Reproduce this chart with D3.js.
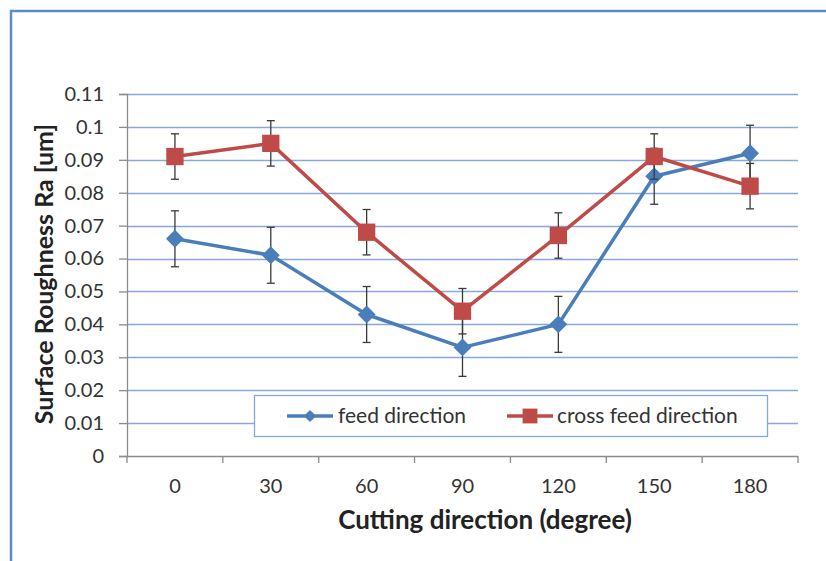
<!DOCTYPE html>
<html>
<head>
<meta charset="utf-8">
<script src="https://cdn.jsdelivr.net/npm/d3@7"></script>
<style>
  html, body { margin: 0; padding: 0; background: #fff; }
  svg { display: block; font-family: Lato, "Open Sans", sans-serif; }
</style>
</head>
<body>
<svg id="chart" width="826" height="561"></svg>
<script>
// Cutting direction categories (degrees)
const categories = ["0", "30", "60", "90", "120", "150", "180"];

// Mean surface roughness Ra (um) per direction
const feedValues  = [0.066, 0.061, 0.043, 0.033, 0.040, 0.085, 0.092];
const crossValues = [0.091, 0.095, 0.068, 0.044, 0.067, 0.091, 0.082];

// Error bar half-widths (um)
const feedErrors  = [0.0085, 0.0085, 0.0085, 0.0088, 0.0085, 0.0085, 0.0085];
const crossErrors = [0.0069, 0.0069, 0.0069, 0.0069, 0.0069, 0.0069, 0.0069];

// Y axis tick labels
const yTickValues = [0, 0.01, 0.02, 0.03, 0.04, 0.05, 0.06, 0.07, 0.08, 0.09, 0.1, 0.11];
const yTickLabels = ["0", "0.01", "0.02", "0.03", "0.04", "0.05", "0.06", "0.07", "0.08", "0.09", "0.1", "0.11"];

const seriesNames = ["feed direction", "cross feed direction"];

const svg = d3.select("#chart");

const plot = { left: 127, right: 798, top: 94, bottom: 456 };

const x = d3.scaleBand().domain(categories).range([plot.left, plot.right]).padding(0);
const y = d3.scaleLinear().domain([0, 0.11]).range([plot.bottom, plot.top]);

const blue = "#4a7ebb";
const red = "#be4b48";
const gridColor = "#86a8dc";
const axisColor = "#8c8c8c";
const textColor = "#333333";

// Outer chart frame
svg.append("rect")
  .attr("x", 11).attr("y", 11)
  .attr("width", 900).attr("height", 700)
  .attr("fill", "none")
  .attr("stroke", "#5b8bd0")
  .attr("stroke-width", 2.5);

// Horizontal gridlines
svg.append("g")
  .selectAll("line")
  .data(yTickValues.filter(v => v > 0))
  .join("line")
  .attr("x1", plot.left).attr("x2", plot.right)
  .attr("y1", d => Math.round(y(d)) + 0.5).attr("y2", d => Math.round(y(d)) + 0.5)
  .attr("stroke", gridColor)
  .attr("stroke-width", 1.3);

// Y axis
const yAxis = d3.axisLeft(y)
  .tickValues(yTickValues)
  .tickFormat((d, i) => yTickLabels[i])
  .tickSize(8)
  .tickPadding(15);

const gy = svg.append("g")
  .attr("transform", `translate(${plot.left},0)`)
  .call(yAxis);
gy.select(".domain").attr("stroke", axisColor).attr("stroke-width", 1.3);
gy.selectAll(".tick line").attr("stroke", axisColor).attr("stroke-width", 1.3);
gy.selectAll(".tick text")
  .attr("fill", textColor)
  .style("font-size", "20px")
  .style("font-family", "Lato, sans-serif");

// X axis labels at category centres
const xAxis = d3.axisBottom(x).tickSize(0).tickPadding(23);
const gx = svg.append("g")
  .attr("transform", `translate(0,${plot.bottom})`)
  .call(xAxis);
gx.select(".domain").remove();
gx.selectAll(".tick text")
  .attr("fill", textColor)
  .style("font-size", "20px")
  .style("font-family", "Lato, sans-serif");

// X axis baseline and category boundary ticks
svg.append("line")
  .attr("x1", plot.left).attr("x2", plot.right)
  .attr("y1", plot.bottom + 0.5).attr("y2", plot.bottom + 0.5)
  .attr("stroke", axisColor).attr("stroke-width", 1.3);
const boundaries = categories.map(c => x(c)).concat([x(categories[categories.length - 1]) + x.bandwidth()]);
svg.append("g")
  .selectAll("line")
  .data(boundaries)
  .join("line")
  .attr("x1", d => d).attr("x2", d => d)
  .attr("y1", plot.bottom).attr("y2", plot.bottom + 7)
  .attr("stroke", axisColor).attr("stroke-width", 1.3);

// Axis titles
svg.append("text")
  .attr("x", 485).attr("y", 529)
  .attr("text-anchor", "middle")
  .attr("fill", "#222")
  .style("font-size", "26px")
  .style("font-weight", "bold")
  .text("Cutting direction (degree)");

svg.append("text")
  .attr("transform", "translate(53,274) rotate(-90)")
  .attr("text-anchor", "middle")
  .attr("fill", "#222")
  .style("font-size", "25px")
  .style("font-weight", "bold")
  .text("Surface Roughness Ra [um]");

const cx = c => x(c) + x.bandwidth() / 2;

function drawSeries(values, errors, color, shape) {
  const pts = categories.map((c, i) => ({ c, v: values[i], e: errors[i] }));
  const g = svg.append("g");

  // error bars
  const eb = g.append("g").attr("stroke", "#3a3a3a").attr("stroke-width", 1.3);
  pts.forEach(p => {
    const xc = cx(p.c);
    eb.append("line").attr("x1", xc).attr("x2", xc)
      .attr("y1", y(p.v + p.e)).attr("y2", y(p.v - p.e));
    eb.append("line").attr("x1", xc - 4).attr("x2", xc + 4)
      .attr("y1", y(p.v + p.e)).attr("y2", y(p.v + p.e));
    eb.append("line").attr("x1", xc - 4).attr("x2", xc + 4)
      .attr("y1", y(p.v - p.e)).attr("y2", y(p.v - p.e));
  });

  const line = d3.line().x(p => cx(p.c)).y(p => y(p.v));
  g.append("path")
    .datum(pts)
    .attr("d", line)
    .attr("fill", "none")
    .attr("stroke", color)
    .attr("stroke-width", 3.5)
    .attr("stroke-linejoin", "round");

  const sym = d3.symbol().type(d3.symbolSquare)
    .size(shape === "diamond" ? 160 : 300);
  g.selectAll("path.marker")
    .data(pts)
    .join("path")
    .attr("class", "marker")
    .attr("d", sym)
    .attr("transform", p => `translate(${cx(p.c)},${y(p.v)})` + (shape === "diamond" ? " rotate(45)" : ""))
    .attr("fill", color);
}

drawSeries(feedValues, feedErrors, blue, "diamond");
drawSeries(crossValues, crossErrors, red, "square");

// Legend
const legend = svg.append("g");
legend.append("rect")
  .attr("x", 254.5).attr("y", 395.5)
  .attr("width", 513).attr("height", 41)
  .attr("fill", "#fff")
  .attr("stroke", gridColor)
  .attr("stroke-width", 1.3);

const legendItems = [
  { name: seriesNames[0], color: blue, shape: "diamond", x0: 287, tx: 338 },
  { name: seriesNames[1], color: red, shape: "square", x0: 507, tx: 557 }
];
legendItems.forEach(it => {
  const ly = 416;
  legend.append("line")
    .attr("x1", it.x0).attr("x2", it.x0 + 46)
    .attr("y1", ly).attr("y2", ly)
    .attr("stroke", it.color).attr("stroke-width", 3.5);
  legend.append("path")
    .attr("d", d3.symbol().type(d3.symbolSquare).size(it.shape === "diamond" ? 75 : 220))
    .attr("transform", `translate(${it.x0 + 23},${ly})` + (it.shape === "diamond" ? " rotate(45)" : ""))
    .attr("fill", it.color);
  legend.append("text")
    .attr("x", it.tx).attr("y", ly)
    .attr("dy", "0.35em")
    .attr("fill", textColor)
    .style("font-size", "21px")
    .text(it.name);
});
</script>
</body>
</html>
